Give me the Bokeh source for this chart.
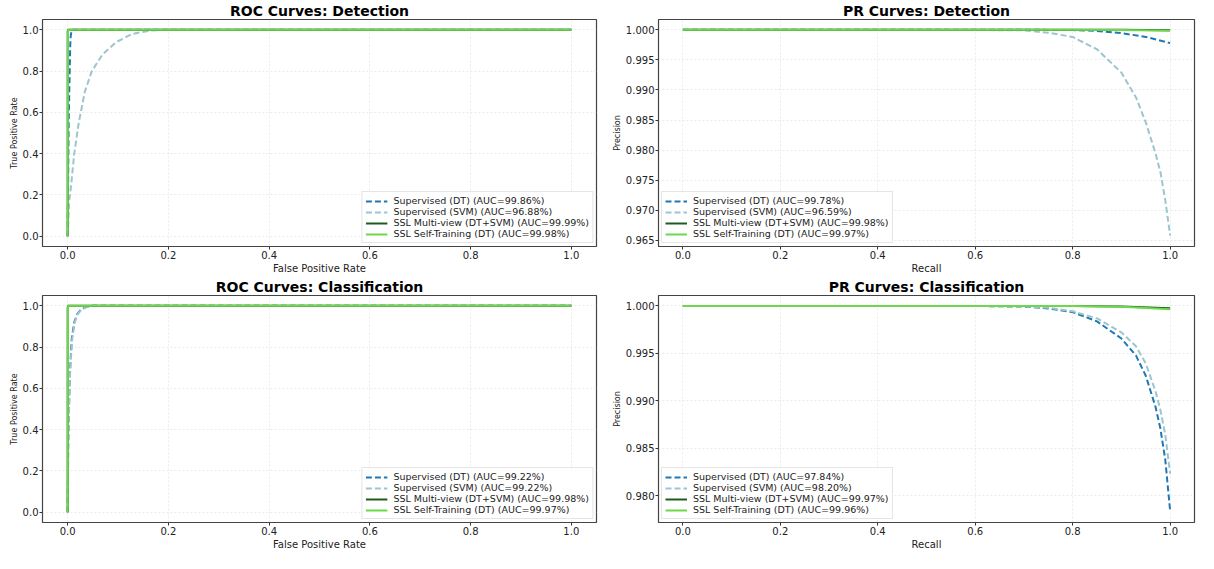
from bokeh.plotting import figure
from bokeh.layouts import gridplot
from bokeh.models import Range1d, FixedTicker, NumeralTickFormatter, Legend, LegendItem
from bokeh.embed import file_html
from bokeh.resources import INLINE

# ---------------- data ----------------
series_names = ["Supervised (DT)", "Supervised (SVM)", "SSL Multi-view (DT+SVM)", "SSL Self-Training (DT)"]
series_colors = ["#1f78b4", "#9cc5cf", "#1e5c1e", "#6cd94a"]

# ROC Detection
roc_det_dt_fpr = [0.0, 0.001, 0.002, 0.004, 0.005, 0.006, 0.008, 1.0]
roc_det_dt_tpr = [0.0, 0.30, 0.55, 0.80, 0.92, 0.97, 1.0, 1.0]
roc_det_svm_fpr = [0.0, 0.003, 0.007, 0.013, 0.022, 0.034, 0.048, 0.069, 0.096, 0.128, 0.166, 0.19, 1.0]
roc_det_svm_tpr = [0.0, 0.17, 0.25, 0.40, 0.55, 0.70, 0.80, 0.88, 0.94, 0.98, 0.997, 1.0, 1.0]
roc_det_mv_fpr = [0.0, 0.0, 0.0005, 1.0]
roc_det_mv_tpr = [0.0, 0.99, 1.0, 1.0]
roc_det_st_fpr = [0.0, 0.0005, 0.001, 1.0]
roc_det_st_tpr = [0.0, 0.98, 1.0, 1.0]
roc_det_auc = ["99.86%", "96.88%", "99.99%", "99.98%"]

# ROC Classification
roc_cls_dt_fpr = [0.0, 0.001, 0.003, 0.005, 0.008, 0.013, 0.019, 0.026, 0.033, 0.045, 1.0]
roc_cls_dt_tpr = [0.0, 0.32, 0.55, 0.70, 0.84, 0.92, 0.96, 0.98, 0.99, 1.0, 1.0]
roc_cls_svm_fpr = [0.0, 0.001, 0.003, 0.005, 0.009, 0.014, 0.020, 0.027, 0.034, 0.046, 1.0]
roc_cls_svm_tpr = [0.0, 0.30, 0.53, 0.69, 0.84, 0.92, 0.96, 0.98, 0.99, 1.0, 1.0]
roc_cls_mv_fpr = [0.0, 0.0, 0.0005, 1.0]
roc_cls_mv_tpr = [0.0, 0.99, 1.0, 1.0]
roc_cls_st_fpr = [0.0, 0.0005, 0.001, 1.0]
roc_cls_st_tpr = [0.0, 0.98, 1.0, 1.0]
roc_cls_auc = ["99.22%", "99.22%", "99.98%", "99.97%"]

# PR Detection
pr_det_dt_rec = [0.0, 0.7, 0.8, 0.85, 0.9, 0.95, 1.0]
pr_det_dt_prec = [1.0, 1.0, 0.99995, 0.9998, 0.99943, 0.99881, 0.99778]
pr_det_svm_rec = [0.0, 0.5, 0.7, 0.75, 0.8, 0.85, 0.9, 0.93, 0.95, 0.97, 0.98, 0.99, 1.0]
pr_det_svm_prec = [1.0, 1.0, 0.9999, 0.9995, 0.9988, 0.99675, 0.99288, 0.98875, 0.98462, 0.97946, 0.97637, 0.97172, 0.9658]
pr_det_mv_rec = [0.0, 0.8, 0.9, 1.0]
pr_det_mv_prec = [1.0, 1.0, 0.99998, 0.99993]
pr_det_st_rec = [0.0, 0.8, 0.9, 1.0]
pr_det_st_prec = [1.0, 1.0, 0.99995, 0.99985]
pr_det_auc = ["99.78%", "96.59%", "99.98%", "99.97%"]

# PR Classification
pr_cls_dt_rec = [0.0, 0.6, 0.7, 0.75, 0.8, 0.85, 0.9, 0.93, 0.95, 0.97, 0.98, 0.99, 1.0]
pr_cls_dt_prec = [1.0, 1.0, 0.99993, 0.99974, 0.99935, 0.99837, 0.99657, 0.99477, 0.99265, 0.98938, 0.98709, 0.98382, 0.97843]
pr_cls_svm_rec = [0.0, 0.6, 0.7, 0.75, 0.8, 0.85, 0.9, 0.93, 0.95, 0.97, 0.98, 0.99, 1.0]
pr_cls_svm_prec = [1.0, 1.0, 0.99995, 0.9998, 0.99944, 0.99869, 0.99722, 0.99575, 0.99395, 0.99101, 0.98905, 0.98644, 0.98235]
pr_cls_mv_rec = [0.0, 0.8, 0.9, 1.0]
pr_cls_mv_prec = [1.0, 1.0, 0.99995, 0.99975]
pr_cls_st_rec = [0.0, 0.8, 0.9, 1.0]
pr_cls_st_prec = [1.0, 1.0, 0.99992, 0.99965]
pr_cls_auc = ["97.84%", "98.20%", "99.97%", "99.96%"]

x_ticks = [0.0, 0.2, 0.4, 0.6, 0.8, 1.0]
roc_y_ticks = [0.0, 0.2, 0.4, 0.6, 0.8, 1.0]
pr_det_y_ticks = [0.965, 0.970, 0.975, 0.980, 0.985, 0.990, 0.995, 1.000]
pr_cls_y_ticks = [0.980, 0.985, 0.990, 0.995, 1.000]

FONT = "DejaVu Sans"
DASHES = ["6 3", "6 3", "solid", "solid"]


def make_panel(title, xs, ys, aucs, xlabel, ylabel, y_range, y_ticks, y_fmt,
               legend_loc, width, height, border_left, border_right, border_top, border_bottom):
    p = figure(width=width, height=height, output_backend="svg", toolbar_location=None,
               x_range=Range1d(-0.05, 1.05), y_range=Range1d(*y_range),
               min_border_left=border_left, min_border_right=border_right,
               min_border_top=border_top, min_border_bottom=border_bottom)
    p.title.text = title
    p.title.align = "center"
    p.title.text_font = FONT
    p.title.text_font_size = "14px"
    p.title.text_font_style = "bold"
    p.title.text_color = "black"
    p.title.standoff = 1
    p.outline_line_color = "#444444"
    p.outline_line_width = 1.2
    p.background_fill_color = "white"
    p.border_fill_color = "white"

    for ax in (p.xaxis[0], p.yaxis[0]):
        ax.axis_line_color = None
        ax.major_tick_line_color = "#333333"
        ax.major_tick_out = 3
        ax.major_tick_in = 0
        ax.minor_tick_line_color = None
        ax.major_label_text_font = FONT
        ax.major_label_text_font_size = "10px"
        ax.major_label_text_color = "#222222"
        ax.axis_label_text_font = FONT
        ax.axis_label_text_font_style = "normal"
        ax.axis_label_text_color = "#222222"
        ax.major_label_standoff = 1
        ax.axis_label_standoff = 1
    p.xaxis.axis_label_text_font_size = "10px"
    p.yaxis.axis_label_text_font_size = "8px"
    p.xaxis.ticker = FixedTicker(ticks=x_ticks)
    p.xaxis.formatter = NumeralTickFormatter(format="0.0")
    p.yaxis.ticker = FixedTicker(ticks=y_ticks)
    p.yaxis.formatter = NumeralTickFormatter(format=y_fmt)
    p.xaxis.axis_label = xlabel
    p.yaxis.axis_label = ylabel

    p.grid.grid_line_color = "#e6e6e6"
    p.grid.grid_line_dash = "2 2"
    p.grid.grid_line_width = 0.8

    items = []
    for i in range(4):
        r = p.line(xs[i], ys[i], line_color=series_colors[i], line_width=2.0,
                   line_dash=DASHES[i])
        items.append(LegendItem(label=f"{series_names[i]} (AUC={aucs[i]})", renderers=[r]))

    leg = Legend(items=items, location=legend_loc)
    leg.label_text_font = FONT
    leg.label_text_font_size = "9.5px"
    leg.label_text_color = "#222222"
    leg.label_height = 8
    leg.label_standoff = 6
    leg.glyph_height = 8
    leg.glyph_width = 22
    leg.spacing = 0
    leg.padding = 3
    leg.margin = 3
    leg.border_line_color = "#cccccc"
    leg.border_line_width = 1
    leg.background_fill_alpha = 0.85
    p.add_layout(leg)
    return p


p1 = make_panel("ROC Curves: Detection",
                [roc_det_dt_fpr, roc_det_svm_fpr, roc_det_mv_fpr, roc_det_st_fpr],
                [roc_det_dt_tpr, roc_det_svm_tpr, roc_det_mv_tpr, roc_det_st_tpr],
                roc_det_auc, "False Positive Rate", "True Positive Rate",
                (-0.05, 1.05), roc_y_ticks, "0.0", "bottom_right",
                600, 276, 42, 4, 12, 20)
p2 = make_panel("PR Curves: Detection",
                [pr_det_dt_rec, pr_det_svm_rec, pr_det_mv_rec, pr_det_st_rec],
                [pr_det_dt_prec, pr_det_svm_prec, pr_det_mv_prec, pr_det_st_prec],
                pr_det_auc, "Recall", "Precision",
                (0.9640, 1.0017), pr_det_y_ticks, "0.000", "bottom_left",
                598, 276, 58, 4, 12, 20)
p3 = make_panel("ROC Curves: Classification",
                [roc_cls_dt_fpr, roc_cls_svm_fpr, roc_cls_mv_fpr, roc_cls_st_fpr],
                [roc_cls_dt_tpr, roc_cls_svm_tpr, roc_cls_mv_tpr, roc_cls_st_tpr],
                roc_cls_auc, "False Positive Rate", "True Positive Rate",
                (-0.05, 1.05), roc_y_ticks, "0.0", "bottom_right",
                600, 276, 42, 4, 12, 20)
p4 = make_panel("PR Curves: Classification",
                [pr_cls_dt_rec, pr_cls_svm_rec, pr_cls_mv_rec, pr_cls_st_rec],
                [pr_cls_dt_prec, pr_cls_svm_prec, pr_cls_mv_prec, pr_cls_st_prec],
                pr_cls_auc, "Recall", "Precision",
                (0.9772, 1.0011), pr_cls_y_ticks, "0.000", "bottom_left",
                598, 276, 58, 4, 12, 20)

grid = gridplot([[p1, p2], [p3, p4]], toolbar_location=None)

open("out.html", "w").write(file_html(grid, INLINE))
